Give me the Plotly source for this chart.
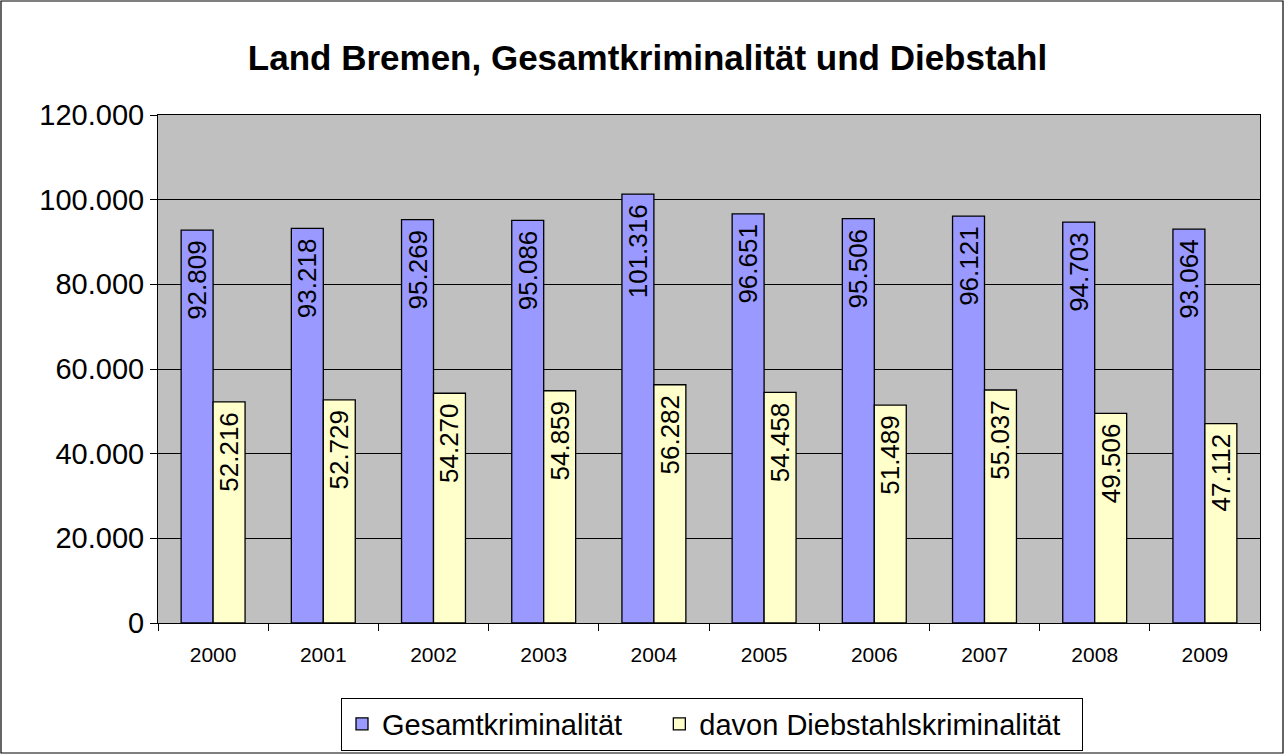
import plotly.graph_objects as go

years = ['2000', '2001', '2002', '2003', '2004', '2005', '2006', '2007', '2008', '2009']
gesamt = [92809, 93218, 95269, 95086, 101316, 96651, 95506, 96121, 94703, 93064]
diebstahl = [52216, 52729, 54270, 54859, 56282, 54458, 51489, 55037, 49506, 47112]

W, H = 1285, 755
L, R, T, B = 158, 25, 115, 132
pw, ph = W - L - R, H - T - B
nb = '\u00a0'

bar_text = dict(
    texttemplate='%{y:,}' + nb, textposition='inside', insidetextanchor='end',
    textangle=-90, constraintext='none', textfont=dict(size=26, color='black'),
)

fig = go.Figure()
fig.add_trace(go.Bar(
    x=years, y=gesamt, name='Gesamtkriminalität' + nb * 4,
    marker=dict(color='#9999FF', line=dict(color='black', width=1.3)),
    **bar_text,
))
fig.add_trace(go.Bar(
    x=years, y=diebstahl, name='davon Diebstahlskriminalität' + nb * 2,
    marker=dict(color='#FFFFCC', line=dict(color='black', width=1.3)),
    **bar_text,
))

fig.update_layout(
    width=W, height=H,
    margin=dict(l=L, r=R, t=T, b=B),
    paper_bgcolor='white', plot_bgcolor='#C0C0C0',
    font=dict(family='Liberation Sans, Arial', color='black'),
    separators=',.',
    barmode='group', bargap=0.42, bargroupgap=0,
    title=dict(text='<b>Land Bremen, Gesamtkriminalität und Diebstahl</b>',
               x=(W / 2 + 5 - L) / pw, xref='paper', xanchor='center',
               y=1 - 58 / H, yanchor='middle',
               font=dict(size=35)),
    legend=dict(orientation='h', xref='container', x=712 / W, xanchor='center',
                yref='container', y=1 - 724 / H, yanchor='middle',
                bordercolor='black', borderwidth=1, font=dict(size=29),
                itemwidth=30, traceorder='normal'),
    # border around the whole chart
    shapes=[dict(type='rect', xref='paper', yref='paper',
                 x0=-(L - 1) / pw, x1=(W - 2 - L) / pw,
                 y0=-(B - 2) / ph, y1=1 + (T - 1) / ph,
                 line=dict(color='black', width=1.2), layer='below')],
)

fig.update_xaxes(
    showline=True, linecolor='black', mirror=True,
    ticks='outside', tickson='boundaries', ticklen=7, tickcolor='black',
    ticklabelstandoff=13, tickfont=dict(size=21), showgrid=False,
)
fig.update_yaxes(
    range=[0, 120000], dtick=20000, tickformat=',',
    showline=True, linecolor='black', mirror=True,
    ticks='outside', ticklen=7, tickcolor='black',
    gridcolor='black', gridwidth=1, tickfont=dict(size=29),
    zeroline=False,
)

fig.write_html('out.html', config={'displayModeBar': False},
               post_script="document.body.style.margin='0';")
